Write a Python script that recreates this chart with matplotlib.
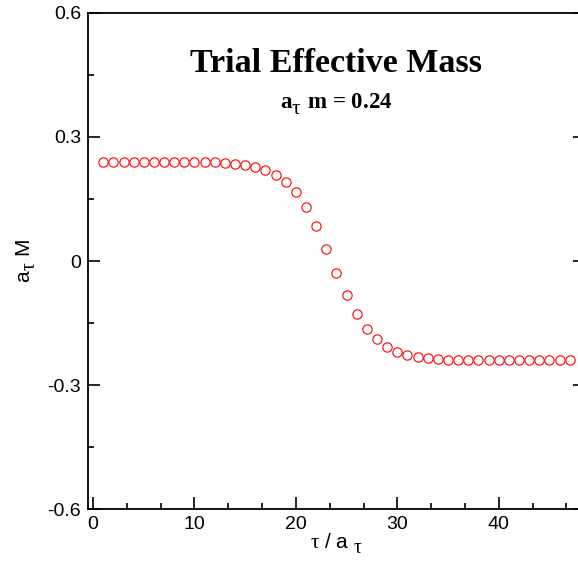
import matplotlib
matplotlib.use('Agg')
import matplotlib.pyplot as plt
from matplotlib.ticker import MultipleLocator
import matplotlib._mathtext as _mt

# xmgrace style subscripts: lowered but not shrunk
_mt.SHRINK_FACTOR = 0.97

# effective mass vs. time slice
tau = list(range(1, 48))
mass = [0.240, 0.240, 0.240, 0.240, 0.240, 0.240, 0.240, 0.240, 0.240, 0.240,
        0.240, 0.239, 0.238, 0.235, 0.233, 0.227, 0.219, 0.209, 0.191, 0.166,
        0.130, 0.084, 0.030, -0.029, -0.081, -0.128, -0.164, -0.189, -0.208, -0.220,
        -0.227, -0.232, -0.235, -0.238, -0.239, -0.240, -0.240, -0.240, -0.240, -0.240,
        -0.240, -0.240, -0.240, -0.240, -0.240, -0.240, -0.240]

xticks = [0, 10, 20, 30, 40]
yticks = [-0.6, -0.3, 0, 0.3, 0.6]
ytick_labels = ['-0.6', '-0.3', '0', '0.3', '0.6']

plt.rcParams['font.family'] = ['Liberation Sans', 'DejaVu Sans']
plt.rcParams['mathtext.fontset'] = 'custom'
plt.rcParams['mathtext.rm'] = 'Liberation Serif'
plt.rcParams['mathtext.it'] = 'Liberation Serif'
plt.rcParams['mathtext.bf'] = 'Liberation Serif:bold'

W, H = 578, 565
fig = plt.figure(figsize=(W / 100, H / 100), dpi=100)
# right spine sits just outside the picture, like the original crop
ax = fig.add_axes([88 / W, 55.7 / H, 497 / W, 496.6 / H])

ax.plot(tau, mass, 'o', ls='none', ms=6.7, mfc='none', mec='#ff0000', mew=0.8)

ax.set_xlim(-0.5, 48.5)
ax.set_ylim(-0.6, 0.6)
ax.set_xticks(xticks)
ax.set_yticks(yticks)
ax.set_yticklabels(ytick_labels)
ax.xaxis.set_minor_locator(MultipleLocator(10 / 3))
ax.yaxis.set_minor_locator(MultipleLocator(0.15))

ax.tick_params(which='both', direction='in', top=False, right=True, bottom=True, left=True,
               width=1.2, labelsize=14, pad=5)
ax.tick_params(which='major', length=8.6)
ax.tick_params(which='minor', length=4.5)
for s in ax.spines.values():
    s.set_linewidth(1.3)

# double subscript = deeper drop, like grace
ax.set_xlabel(r'$\tau$ / a $_{_\tau}$', fontsize=15, va='baseline')
ax.xaxis.set_label_coords(0.5, -0.078)
ax.set_ylabel(r'a$_{_\tau}$ M', fontsize=15, va='baseline')
ax.yaxis.set_label_coords(-0.117, 0.5)

ax.text(0.5, 0.881, 'Trial Effective Mass', transform=ax.transAxes, ha='center',
        va='baseline', fontsize=24.5, fontweight='bold', family='Liberation Serif')
ax.text(0.5, 0.8075, r'a$_{_\tau}$ m = 0.24', transform=ax.transAxes, ha='center',
        va='baseline', fontsize=16.5, fontweight='bold', family='Liberation Serif')

fig.savefig('out.png', dpi=100)
